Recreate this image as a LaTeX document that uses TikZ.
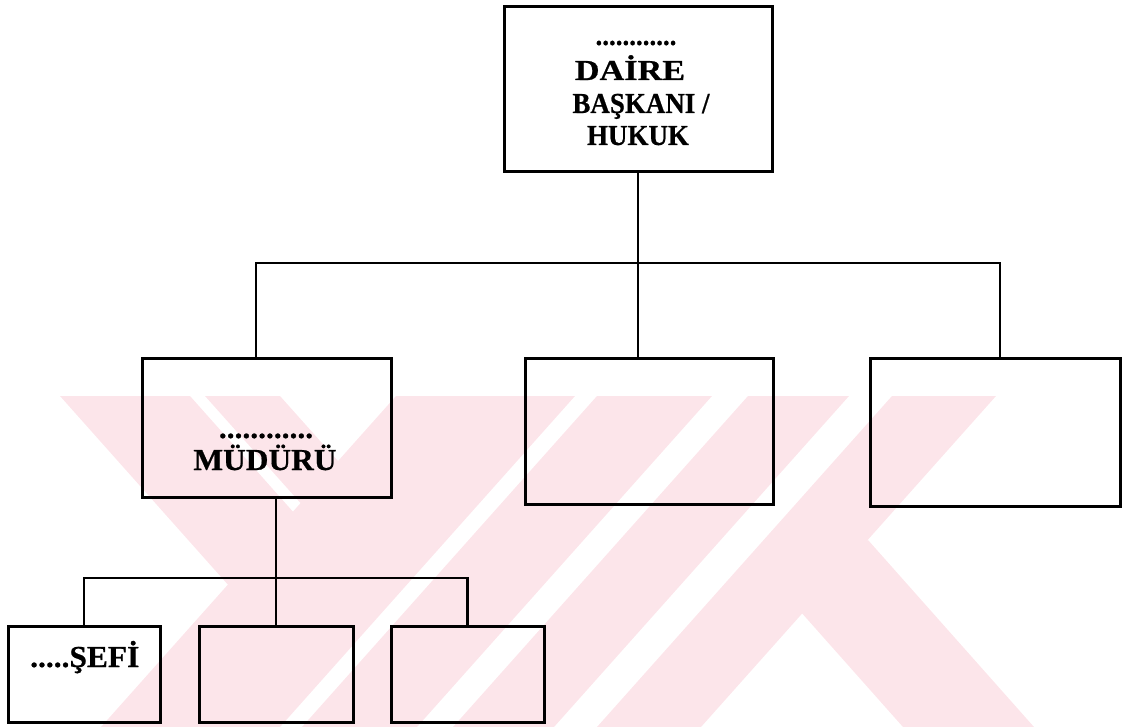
\documentclass[tikz,border=0pt]{standalone}
\usepackage{fontspec}
\setmainfont{Liberation Serif}
\newfontfamily\headfont[FakeStretch=0.93,FakeBold=0.6]{Liberation Serif}
\newfontfamily\wideheadfont[FakeStretch=1.18,FakeBold=0.6]{Liberation Serif}
\newfontfamily\unitfont[FakeStretch=1.03,FakeBold=0.6]{Liberation Serif}
\definecolor{wmpink}{RGB}{252,229,234}
\begin{document}
\begin{tikzpicture}[x=1pt,y=-1pt,
  box/.style={draw=black,line width=3pt,rectangle,inner sep=0pt},
  link/.style={draw=black,line width=2.2pt},
  band/.style={fill=wmpink,draw=none},
  headlbl/.style={inner sep=0pt,font=\headfont\fontsize{29}{33}\selectfont\bfseries},
  unitlbl/.style={inner sep=0pt,font=\unitfont\fontsize{30.5}{33}\selectfont\bfseries}]
\useasboundingbox (0,0) rectangle (1122,727);

% faint background emblem made of slanted bands
\fill[band] (60,396) -- (190,396) -- (368,596) -- (238,596) -- cycle;
\fill[band] (205,396) -- (280,396) -- (396,526) -- (321,526) -- cycle;
\fill[band] (396,396) -- (575,396) -- (280,727) -- (101,727) -- cycle;
\fill[band] (597,396) -- (712,396) -- (417,727) -- (302,727) -- cycle;
\fill[band] (748,396) -- (849,396) -- (554,727) -- (453,727) -- cycle;
\fill[band] (892,396) -- (996,396) -- (701,727) -- (597,727) -- cycle;
\fill[band] (784,593) -- (868,540) -- (1034,727) -- (903,727) -- cycle;

% boxes
\node[box,minimum width=268pt,minimum height=165pt] (top) at (638,89.5) {};
\node[box,minimum width=249pt,minimum height=139pt] (m1) at (266.5,427.5) {};
\node[box,minimum width=248pt,minimum height=146pt] (m2) at (649,431) {};
\node[box,minimum width=250pt,minimum height=148pt] (m3) at (995,432) {};
\node[box,minimum width=152pt,minimum height=96pt] (s1) at (84,674) {};
\node[box,minimum width=154pt,minimum height=96pt] (s2) at (276,674) {};
\node[box,minimum width=153pt,minimum height=96pt] (s3) at (467.5,674) {};

% texts
\node[headlbl,anchor=base] (t1) at (636,45) {............};
\node[headlbl,anchor=base,font=\wideheadfont\fontsize{29}{33}\selectfont\bfseries] (t2) at (630,80) {DAİRE};
\node[headlbl,anchor=base] (t3) at (641,113) {BAŞKANI /};
\node[headlbl,anchor=base] (t4) at (638,145) {HUKUK};
\node[unitlbl,anchor=base] (u1) at (266,438) {............};
\node[unitlbl,anchor=base] (u2) at (265,470) {MÜDÜRÜ};
\node[unitlbl,anchor=base west] (v1) at (30,667) {.....ŞEFİ};

% junction points of the bus lines
\coordinate (jl) at (256,263);
\coordinate (jr) at (1000,263);
\coordinate (jb) at (0,578);

% connectors
\draw[link] (top.south) -- (top.south |- m2.north);
\draw[link] (m1.north -| jl) -- (jl) -- (jr) -- (m3.north -| jr);
\draw[link] (m1.south -| s2.north) -- (s2.north);
\draw[link] (s1.north) -- (s1.north |- jb) -- (s3.north |- jb) -- (s3.north);
\end{tikzpicture}
\end{document}
